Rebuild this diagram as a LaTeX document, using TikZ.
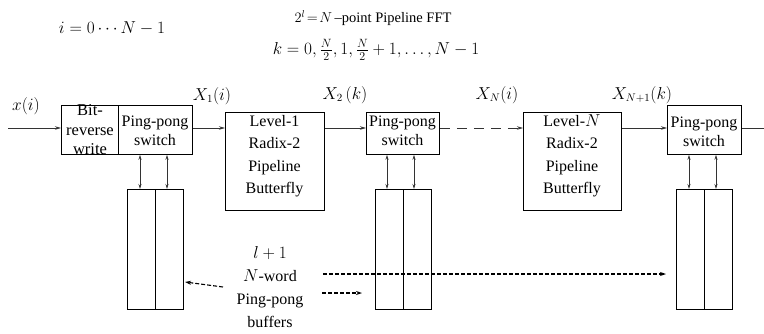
\documentclass[tikz,border=0pt]{standalone}
\usepackage{amsmath}
\usepackage{fontspec}
\setmainfont{Liberation Serif}
\usetikzlibrary{arrows.meta}
\tikzset{
  box/.style={draw=black, line width=0.8pt, anchor=north west, inner sep=0pt},
  txt/.style={align=center, font=\fontsize{16}{21}\selectfont, inner sep=0pt},
  lab/.style={font=\fontsize{16}{19}\selectfont, inner sep=0pt},
  flow/.style={draw=black!80, line width=0.8pt, -{Stealth[length=6pt,width=3.5pt]}},
  dflow/.style={flow, dash pattern=on 10pt off 7pt},
  bidir/.style={draw=black!80, line width=0.8pt, {Stealth[length=5pt,width=3pt]}-{Stealth[length=5pt,width=3pt]}},
  note/.style={draw=black, line width=1.1pt, dash pattern=on 4pt off 2pt, -{Stealth[length=6pt,width=4pt]}}
}
\begin{document}
\begin{tikzpicture}[x=1pt,y=-1pt]
\useasboundingbox (0,0) rectangle (764,333);
% top texts
\node[font=\fontsize{18}{20}\selectfont, inner sep=0pt] (irange) at (112,28) {$i=0\cdots N-1$};
\node[font=\fontsize{14.5}{16}\selectfont, inner sep=0pt] (title) at (373,18) {$2^l\!=\!N$\,–point Pipeline\ FFT};
\node[font=\fontsize{18}{20}\selectfont, inner sep=0pt] (krange) at (376,50) {$k=0,\tfrac{N}{2},1,\tfrac{N}{2}+1,\ldots,N-1$};

% boxes
\node[box, minimum width=57pt, minimum height=49pt] (br) at (61,105) {};
\node[box, minimum width=74pt, minimum height=49pt] (sw1) at (118,105) {};
\node[box, minimum width=99pt, minimum height=98pt] (lv1) at (225,112) {};
\node[box, minimum width=73pt, minimum height=42pt] (sw2) at (366,112) {};
\node[box, minimum width=98pt, minimum height=98pt] (lvn) at (523,112) {};
\node[box, minimum width=74pt, minimum height=49pt] (sw3) at (667,105) {};

% box texts
\node[txt, font=\fontsize{16.5}{19.5}\selectfont] (brt) at (90,130) {Bit-\\reverse\\write};
\node[txt, font=\fontsize{16}{19}\selectfont] (sw1t) at (155,131) {Ping-pong\\switch};
\node[txt, font=\fontsize{16}{19}\selectfont] (sw2t) at (402.5,131) {Ping-pong\\switch};
\node[txt, font=\fontsize{16}{19}\selectfont] (sw3t) at (704,132) {Ping-pong\\switch};
\node[txt, font=\fontsize{16}{22.5}\selectfont] (lv1t) at (274.5,156) {Level-1\\Radix-2\\Pipeline\\Butterfly};
\node[txt, font=\fontsize{16}{22.5}\selectfont] (lvnt) at (572,156) {Level-$N$\\Radix-2\\Pipeline\\Butterfly};

% buffers
\foreach \n/\x in {b1/127, b2/375, b3/676}{
  \node[box, minimum width=28pt, minimum height=120pt] (\n l) at (\x,189) {};
  \node[box, minimum width=28pt, minimum height=120pt] (\n r) at (\x+28,189) {};
}

% main flow
\coordinate (in) at (8,128);
\coordinate (out) at (764,128);
\draw[flow] (in) -- (br.west |- in);
\draw[flow] (sw1.east |- in) -- (lv1.west |- in);
\draw[flow] (lv1.east |- in) -- (sw2.west |- in);
\draw[dflow] (sw2.east |- in) -- (lvn.west |- in);
\draw[flow] (lvn.east |- in) -- (sw3.west |- in);
\draw[draw=black!80, line width=0.8pt] (sw3.east |- in) -- (out);

% signal labels
\node[lab] (lx) at (26,106) {$x(i)$};
\node[lab] (lx1) at (212,96) {$X_1(i)$};
\node[lab] (lx2) at (345,95) {$X_2\,(k)$};
\node[lab] (lxn) at (497,95) {$X_N(i)$};
\node[lab] (lxn1) at (642,95) {$X_{N+1}(k)$};

% bidirectional arrows
\foreach \s/\b/\xa/\xb in {sw1/b1/140/167, sw2/b2/387/414, sw3/b3/689/716}{
  \draw[bidir] (\xa,0 |- \s.south) -- (\xa,0 |- \b l.north);
  \draw[bidir] (\xb,0 |- \s.south) -- (\xb,0 |- \b l.north);
}

% bottom label
\node[txt, font=\fontsize{16}{23}\selectfont] (buf) at (270,287) {$l+1$\\$N$-word\\Ping-pong\\buffers};
\coordinate (a1s) at (223,287);
\coordinate (a1e) at (185,282);
\coordinate (a2s) at (322,293);
\coordinate (a2e) at (362,293);
\coordinate (a3s) at (323,274);
\coordinate (a3e) at (666,274);
\draw[note] (a1s) -- (a1e);
\draw[note] (a2s) -- (a2e);
\draw[note] (a3s) -- (a3e);
\end{tikzpicture}
\end{document}
